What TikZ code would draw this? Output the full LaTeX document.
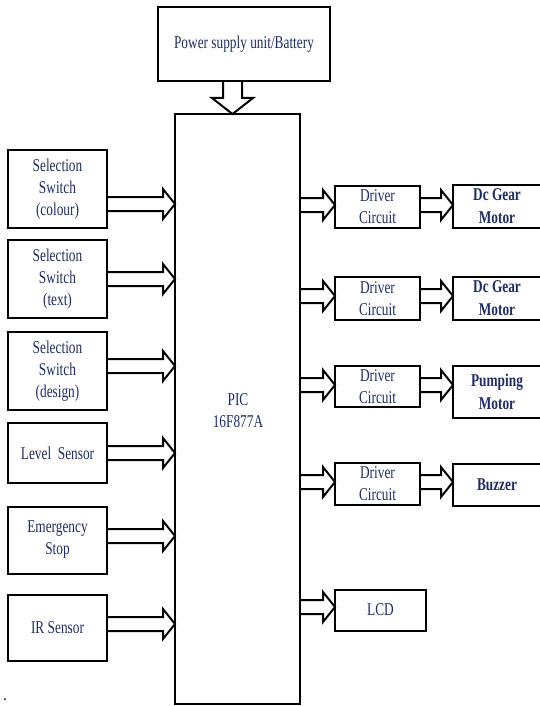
\documentclass[tikz,border=0pt]{standalone}
\usepackage{fontspec}
\setmainfont[FakeStretch=0.74]{Liberation Serif}
\definecolor{txt}{HTML}{1F2C66}
\begin{document}
\begin{tikzpicture}[x=1pt,y=-1pt,
  blk/.style={draw, line width=2pt, inner sep=0pt, text=txt, align=center,
    font=\fontsize{18}{22}\selectfont},
  bblk/.style={blk, font=\fontsize{18}{23}\selectfont\bfseries},
  fat/.style={draw, line width=2pt, line join=miter}]
\useasboundingbox (0,0) rectangle (539,706);
% boxes
\node[blk, minimum width=172, minimum height=74] (psu) at (244,44) {Power supply unit/Battery};
\node[blk, minimum width=125, minimum height=590] (pic) at (237.5,409) {};
\node[text=txt, align=center, font=\fontsize{18}{22}\selectfont] (piclbl) at (238,411) {PIC\\16F877A};
\node[blk, minimum width=99, minimum height=78] (s1) at (57.5,189) {Selection\\Switch\\(colour)};
\node[blk, minimum width=99, minimum height=78] (s2) at (57.5,279) {Selection\\Switch\\(text)};
\node[blk, minimum width=99, minimum height=78] (s3) at (57.5,371) {Selection\\Switch\\(design)};
\node[blk, minimum width=99, minimum height=60] (lvl) at (57.5,453) {Level~~Sensor};
\node[blk, minimum width=99, minimum height=67] (emg) at (57.5,540) {Emergency\\Stop};
\node[blk, minimum width=99, minimum height=66] (ir) at (57.5,628) {IR Sensor};
\node[blk, minimum width=85, minimum height=42] (d1) at (377.5,207) {Driver\\Circuit};
\node[blk, minimum width=85, minimum height=43] (d2) at (377.5,298.5) {Driver\\Circuit};
\node[blk, minimum width=85, minimum height=41] (d3) at (377.5,386.5) {Driver\\Circuit};
\node[blk, minimum width=85, minimum height=42] (d4) at (377.5,484) {Driver\\Circuit};
\node[bblk, minimum width=88, minimum height=43] (m1) at (497,206.5) {Dc Gear\\Motor};
\node[bblk, minimum width=88, minimum height=43] (m2) at (497,298.5) {Dc Gear\\Motor};
\node[bblk, minimum width=88, minimum height=52] (m3) at (497,392) {Pumping\\Motor};
\node[bblk, minimum width=88, minimum height=42] (m4) at (497,485) {Buzzer};
\node[blk, minimum width=91, minimum height=41] (lcd) at (380.5,610) {LCD};
\node[font=\fontsize{18}{22}\selectfont, inner sep=0pt] (dot) at (5,700) {.};
% hollow arrows: from x0 to x1 at height y
\newcommand{\harrow}[3]{%
  \draw[fat] (#1,#3-7) -- ({#2-12},#3-7) -- ({#2-12},#3-15) -- (#2,#3) -- ({#2-12},#3+15) -- ({#2-12},#3+7) -- (#1,#3+7);}
\harrow{107}{175}{204}
\harrow{107}{175}{279}
\harrow{107}{175}{366}
\harrow{107}{175}{453}
\harrow{107}{175}{536}
\harrow{107}{175}{624}
\harrow{300}{335}{205}
\harrow{300}{335}{296}
\harrow{300}{335}{385}
\harrow{300}{335}{482}
\harrow{300}{335}{607}
\harrow{420}{453}{205}
\harrow{420}{453}{296}
\harrow{420}{453}{385}
\harrow{420}{453}{482}
% down arrow from psu to pic
\draw[fat] (223,81) -- (223,98) -- (212,98) -- (232.5,114) -- (253,98) -- (242,98) -- (242,81);
\end{tikzpicture}
\end{document}
